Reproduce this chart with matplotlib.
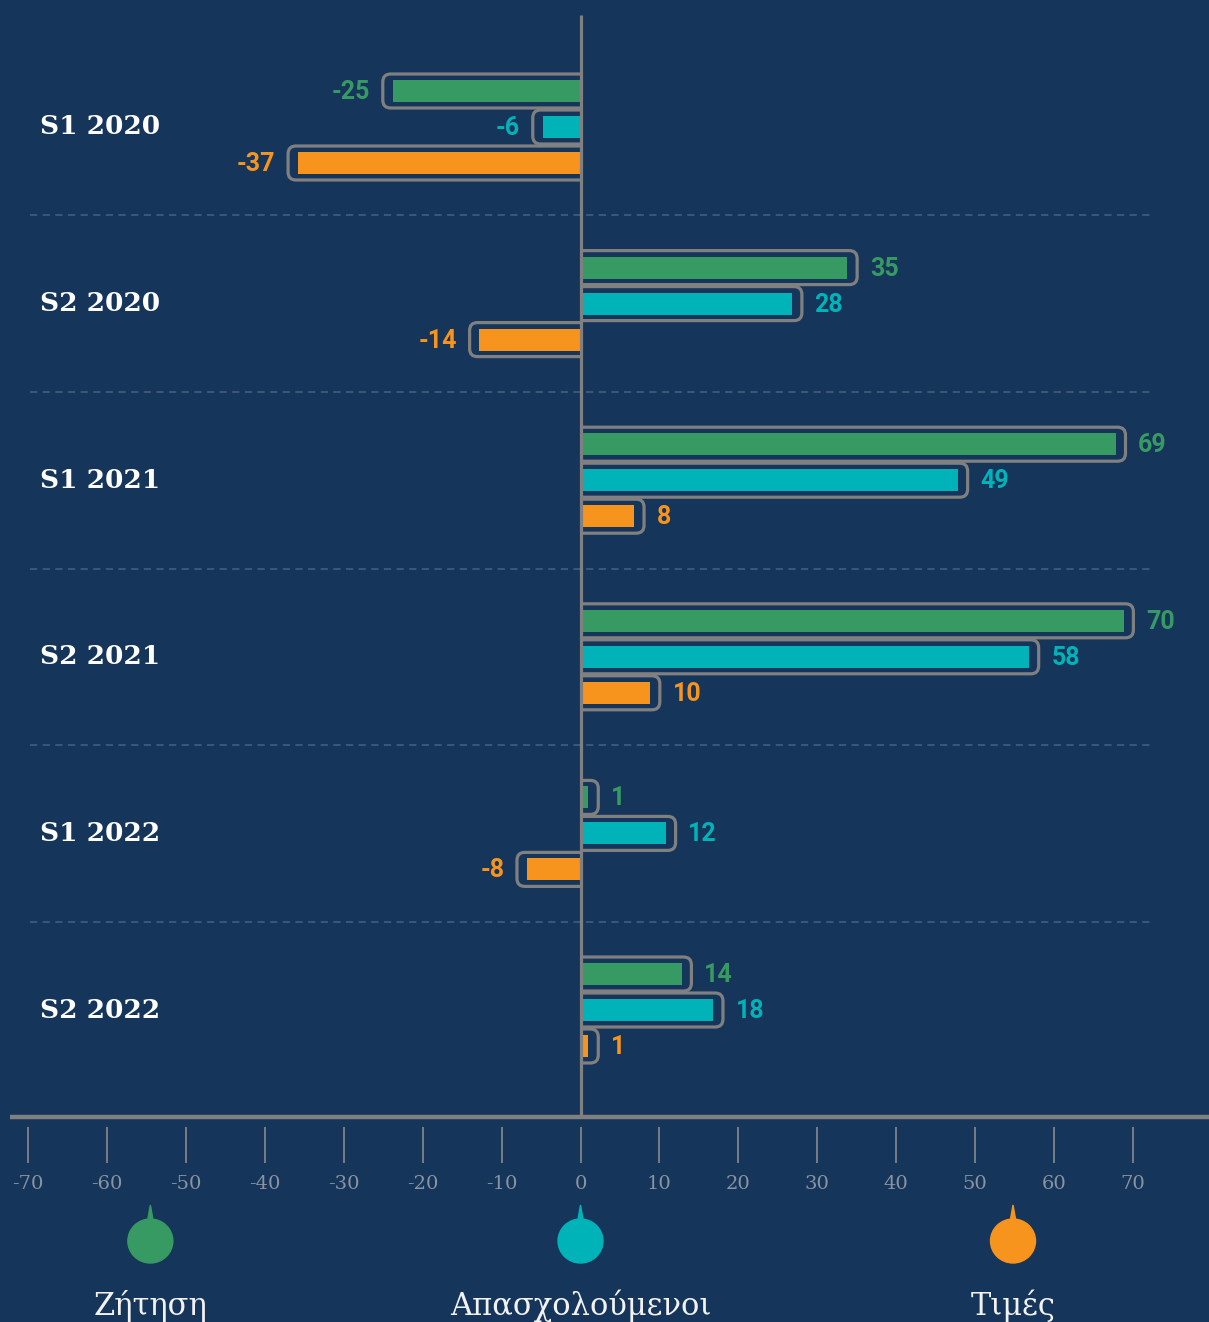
import numpy as np
import matplotlib.pyplot as plt
from matplotlib.patches import FancyBboxPatch, Polygon, Ellipse, Rectangle

periods = ['S1 2020', 'S2 2020', 'S1 2021', 'S2 2021', 'S1 2022', 'S2 2022']
demand = [-25, 35, 69, 70, 1, 14]
employed = [-6, 28, 49, 58, 12, 18]
prices = [-37, -14, 8, 10, -8, 1]
series_names = ['Ζήτηση', 'Απασχολούμενοι', 'Τιμές']
legend_pos = [-54.5, 0, 54.8]
xticks = list(range(-70, 71, 10))

bg = '#16355a'
gray = '#808080'
colors = ['#379a63', '#00b3b8', '#f7941d']

W, H = 1209, 1322
x0, x1 = -73.55, 79.63
ppu = W / (x1 - x0)          # pixels per value unit


def px(p):
    # pixel column -> data x
    return x0 + p / ppu


fig = plt.figure(figsize=(W / 100, H / 100), dpi=100)
fig.patch.set_facecolor(bg)
ax = fig.add_axes([0, 0, 1, 1])
ax.set_facecolor(bg)
ax.set_xlim(x0, x1)
ax.set_ylim(H, 0)
ax.axis('off')

series = [demand, employed, prices]
group_gap = 176.6
for gi, period in enumerate(periods):
    top = 91 + gi * group_gap
    ax.text(px(40), top + 36, period, ha='left', va='center', fontsize=19,
            fontweight='bold', color='white', family='DejaVu Serif')
    for si, vals in enumerate(series):
        v = vals[gi]
        yc = top + si * 36
        s = 1 if v >= 0 else -1
        inner = s * max(abs(v) - 1.2, 1.0)
        ax.barh(yc, inner, height=22, color=colors[si], zorder=3)
        end = inner + s * 1.25
        # box runs past the axis, then gets clipped to its own side
        bx = min(end, -s * 2.0)
        bw = abs(end + s * 2.0)
        box = FancyBboxPatch((bx, yc - 17), bw, 34,
                             boxstyle='round,pad=0,rounding_size=1.0',
                             mutation_aspect=ppu, fc='none', ec=gray,
                             lw=2.3, zorder=4)
        ax.add_patch(box)
        clip = Rectangle((0, yc - 30), s * 100, 60, transform=ax.transData)
        box.set_clip_path(clip)
        lab = end + s * 1.6
        ax.text(lab, yc + 1, str(v), ha='left' if s > 0 else 'right', va='center',
                fontsize=18, fontweight='bold', color=colors[si],
                family='Roboto', zorder=5)
    if gi < len(periods) - 1:
        ax.hlines(top + 72 + 52.3, px(30), px(1150), color='#3e5b7c', lw=1.3,
                  linestyles=(0, (4, 3)), zorder=1)

# axes lines
ax.vlines(0, 15, 1117, color=gray, lw=2.3, zorder=6)
ax.hlines(1117, px(10), px(W), color=gray, lw=3.2, zorder=6)
ax.vlines(xticks, 1127, 1163, color='#8a8a8a', lw=1.2)
for t in xticks:
    ax.text(t, 1184, str(t), ha='center', va='center', fontsize=14,
            color='#8a93a0', family='DejaVu Serif')

# legend drops
for name, xc, c in zip(series_names, legend_pos, colors):
    ax.add_patch(Ellipse((xc, 1241), 45 / ppu, 44, color=c, zorder=3))
    ax.add_patch(Polygon([(xc - 0.45, 1225), (xc, 1205), (xc + 0.45, 1225)],
                         closed=True, color=c, zorder=3))
    ax.text(xc, 1306, name, ha='center', va='center', fontsize=22,
            color='#f2f2f2', family='DejaVu Serif')

fig.savefig('out.png', dpi=100, facecolor=bg)
